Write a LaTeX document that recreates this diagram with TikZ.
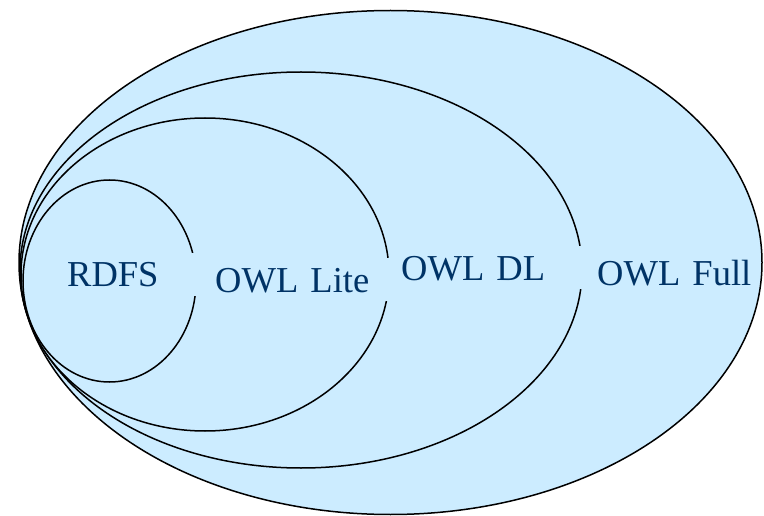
\documentclass[tikz,border=0pt]{standalone}
\usepackage{fontspec}
\setmainfont{Liberation Serif}
\definecolor{setfill}{RGB}{204,236,255}
\definecolor{labeltext}{RGB}{0,51,102}
\begin{document}
\begin{tikzpicture}[x=1pt,y=-1pt,
  setline/.style={draw=black, line width=1.5pt, fill=setfill},
  setlabel/.style={fill=setfill, text=labeltext,
    font=\fontsize{36.5}{40}\selectfont, anchor=base west,
    inner xsep=8pt, inner ysep=0pt, text height=33.5pt, text depth=8.5pt,
    align=left}]
\useasboundingbox (0,0) rectangle (764,516);
% sets
\draw[setline] (390.5,262.5) ellipse [x radius=371.5pt, y radius=252pt];
\draw[setline] (301,270) ellipse [x radius=281pt, y radius=198pt];
\draw[setline] (205,274.5) ellipse [x radius=184pt, y radius=156.5pt];
\draw[setline] (109.5,281) ellipse [x radius=86.5pt, y radius=101pt];
% labels
\node[setlabel, text width=130pt] (rdfs) at (59,287) {\mbox{RDFS}};
\node[setlabel, text width=175pt] (lite) at (207,292) {\mbox{OWL Lite}};
\node[setlabel, text width=183pt] (dl) at (393,280) {\mbox{OWL DL}};
\node[setlabel, text width=153pt] (full) at (589,285) {\mbox{OWL Full}};
\end{tikzpicture}
\end{document}
